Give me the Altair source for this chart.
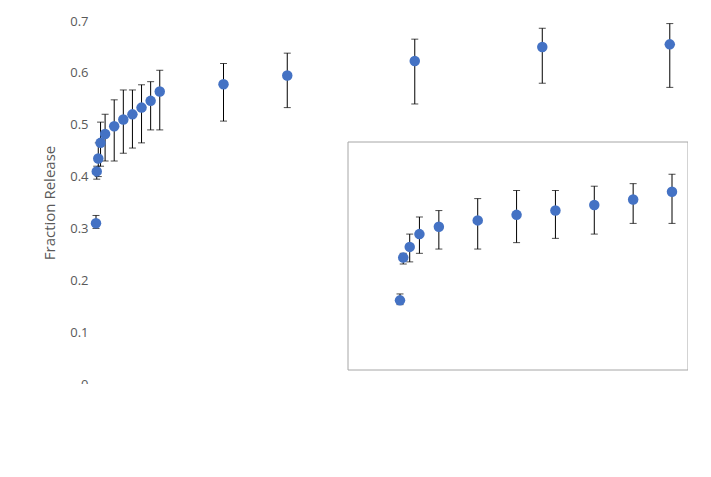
import pandas as pd
import altair as alt

time = [0, 0.083, 0.25, 0.5, 1, 2, 3, 4, 5, 6, 7, 14, 21, 35, 49, 63]
release = [0.31, 0.41, 0.435, 0.465, 0.482, 0.497, 0.51, 0.52, 0.533, 0.546, 0.564,
           0.578, 0.595, 0.623, 0.65, 0.655]
err_low = [0.30, 0.395, 0.40, 0.42, 0.43, 0.43, 0.445, 0.455, 0.465, 0.49, 0.49,
           0.507, 0.533, 0.54, 0.58, 0.572]
err_high = [0.325, 0.42, 0.465, 0.505, 0.52, 0.548, 0.567, 0.567, 0.577, 0.583, 0.605,
            0.618, 0.638, 0.665, 0.686, 0.695]

df = pd.DataFrame({"t": time, "f": release, "lo": err_low, "hi": err_high})
inset_df = df[df.t <= 7]

W, H = 592, 363
FONT = "Open Sans"
GREY = "#595959"
BLUE = "#4472C4"

xs = alt.Scale(domain=[0, 65], nice=False)
ys = alt.Scale(domain=[0, 0.7], nice=False)

x_axis = alt.Axis(values=[0, 10, 20, 30, 40, 50, 60], grid=False, domainColor="#bfbfbf",
                  tickColor="#bfbfbf", tickSize=5, titlePadding=10)
y_axis = alt.Axis(values=[0, 0.1, 0.2, 0.3, 0.4, 0.5, 0.6, 0.7], format=".1~f",
                  grid=False, domain=False, ticks=False, labelPadding=8, titlePadding=12)
main_x = alt.X("t:Q", scale=xs, title="Time (days)", axis=x_axis)

base = alt.Chart(df)
bars = base.mark_errorbar(ticks={"size": 7}, color="black", thickness=1).encode(
    x=main_x, y=alt.Y("lo:Q", scale=ys, title="Fraction Release", axis=y_axis), y2="hi:Q")
pts = base.mark_circle(size=110, color=BLUE, opacity=1).encode(
    x=main_x, y=alt.Y("f:Q", scale=ys, title="Fraction Release", axis=y_axis))
main = alt.layer(bars, pts)

box = alt.Chart(pd.DataFrame({"a": [0]})).mark_rect(fill="white", stroke="#a6a6a6", strokeWidth=1).encode(
    x=alt.value(252), x2=alt.value(592), y=alt.value(121), y2=alt.value(349))

ixs = alt.Scale(domain=[0, 7], range=[304, 576], nice=False)
iys = alt.Scale(domain=[0.25, 0.65], range=[305, 134], nice=False)
ix_axis = alt.Axis(orient="bottom", offset=-(H - 305), values=[0, 2, 4, 6], grid=False,
                   domainColor="#bfbfbf", ticks=False, labelPadding=6)
iy_axis = alt.Axis(orient="left", offset=-304, values=[0.25, 0.35, 0.45, 0.55, 0.65],
                   format=".2f", grid=False, domainColor="#bfbfbf", ticks=False, labelPadding=6)
ix = alt.X("t:Q", scale=ixs, title=None, axis=ix_axis)

ibase = alt.Chart(inset_df)
ibars = ibase.mark_errorbar(ticks={"size": 7}, color="black", thickness=1).encode(
    x=ix, y=alt.Y("lo:Q", scale=iys, title=None, axis=iy_axis), y2="hi:Q")
ipts = ibase.mark_circle(size=110, color=BLUE, opacity=1).encode(
    x=ix, y=alt.Y("f:Q", scale=iys, title=None, axis=iy_axis))
inset = alt.layer(ibars, ipts)

chart = (
    alt.layer(main, box, inset)
    .resolve_scale(x="independent", y="independent")
    .properties(width=W, height=H, autosize=alt.AutoSizeParams(type="none"),
                padding={"left": 88, "top": 13, "right": 0, "bottom": 0})
    .configure_view(stroke=None)
    .configure_axis(labelFont=FONT, titleFont=FONT, labelColor=GREY, titleColor=GREY,
                    labelFontSize=13, titleFontSize=15, titleFontWeight="normal")
)

chart.save("out.html", embed_options={"renderer": "svg", "actions": False})
